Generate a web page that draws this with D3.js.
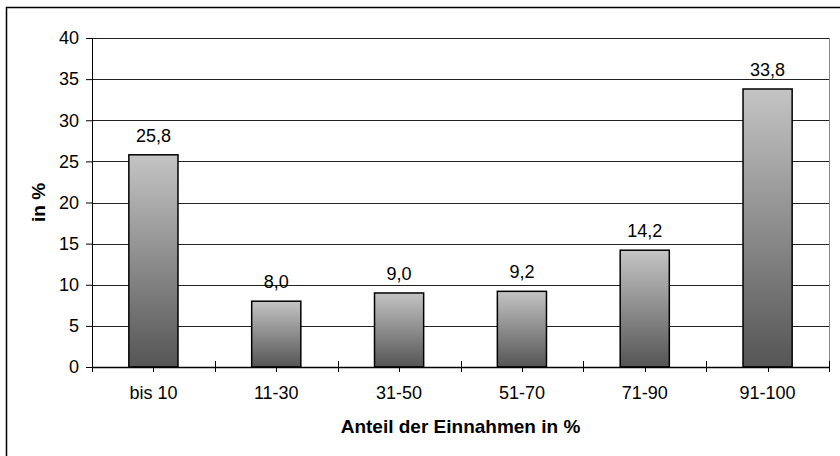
<!DOCTYPE html>
<html>
<head>
<meta charset="utf-8">
<script src="https://cdn.jsdelivr.net/npm/d3@7"></script>
<style>
  body { margin: 0; background: #fff; }
  text { font-family: "Liberation Sans", Arial, sans-serif; }
</style>
</head>
<body>
<div id="plot"></div>
<script>
const FRAME_WIDTH = 840;
const FRAME_HEIGHT = 456;
const MARGIN = {left: 92, right: 11, top: 38, bottom: 89};

const categories = ["bis 10", "11-30", "31-50", "51-70", "71-90", "91-100"];
const values = [25.8, 8.0, 9.0, 9.2, 14.2, 33.8];
const yTicks = [0, 5, 10, 15, 20, 25, 30, 35, 40];

const VIS_WIDTH = FRAME_WIDTH - MARGIN.left - MARGIN.right;
const VIS_HEIGHT = FRAME_HEIGHT - MARGIN.top - MARGIN.bottom;

const FRAME = d3.select("#plot")
  .append("svg")
    .attr("width", FRAME_WIDTH)
    .attr("height", FRAME_HEIGHT);

// outer chart border (clipped on right and bottom like the original)
FRAME.append("rect")
  .attr("x", 6.5).attr("y", 7.5)
  .attr("width", 900).attr("height", 600)
  .attr("fill", "none")
  .attr("stroke", "#000")
  .attr("stroke-width", 1.5);

const defs = FRAME.append("defs");
const grad = defs.append("linearGradient")
  .attr("id", "barGrad")
  .attr("x1", 0).attr("y1", 0).attr("x2", 0).attr("y2", 1);
grad.append("stop").attr("offset", "0%").attr("stop-color", "#c4c4c4");
grad.append("stop").attr("offset", "100%").attr("stop-color", "#555555");

const X_SCALE = d3.scaleBand()
  .domain(categories)
  .range([0, VIS_WIDTH])
  .paddingInner(0.6)
  .paddingOuter(0.3);

const Y_SCALE = d3.scaleLinear()
  .domain([0, 40])
  .range([VIS_HEIGHT, 0]);

const g = FRAME.append("g")
  .attr("transform", "translate(" + MARGIN.left + "," + MARGIN.top + ")");

// gridlines
g.selectAll(".grid")
  .data(yTicks.filter(d => d > 0))
  .enter()
  .append("line")
    .attr("x1", 0).attr("x2", VIS_WIDTH)
    .attr("y1", d => Math.round(Y_SCALE(d)) + 0.5)
    .attr("y2", d => Math.round(Y_SCALE(d)) + 0.5)
    .attr("stroke", "#222")
    .attr("stroke-width", 1);

// right border of plot area
g.append("line")
  .attr("x1", VIS_WIDTH + 0.5).attr("x2", VIS_WIDTH + 0.5)
  .attr("y1", Y_SCALE(40)).attr("y2", VIS_HEIGHT)
  .attr("stroke", "#888");

// bars
g.selectAll(".bar")
  .data(values)
  .enter()
  .append("rect")
    .attr("x", (d, i) => X_SCALE(categories[i]))
    .attr("y", d => Y_SCALE(d))
    .attr("width", X_SCALE.bandwidth())
    .attr("height", d => VIS_HEIGHT - Y_SCALE(d))
    .attr("fill", "url(#barGrad)")
    .attr("stroke", "#000")
    .attr("stroke-width", 1.5);

// value labels
g.selectAll(".lbl")
  .data(values)
  .enter()
  .append("text")
    .attr("x", (d, i) => X_SCALE(categories[i]) + X_SCALE.bandwidth() / 2)
    .attr("y", d => Y_SCALE(d) - 13)
    .attr("text-anchor", "middle")
    .attr("font-size", "18px")
    .text(d => d.toFixed(1).replace(".", ","));

// y axis
const yAxis = g.append("g")
  .call(d3.axisLeft(Y_SCALE).tickValues(yTicks).tickSize(6).tickPadding(7))
  .attr("font-size", "18px")
  .attr("font-family", "Liberation Sans, Arial, sans-serif");
yAxis.selectAll("line").attr("stroke", "#000");
yAxis.select(".domain").attr("stroke", "#000").attr("d", "M0.5," + VIS_HEIGHT + "V0");
yAxis.selectAll("text").attr("fill", "#000");

// x axis: boundary ticks crossing axis, short ticks at category centres
const step = X_SCALE.step();
const xBase = g.append("g").attr("transform", "translate(0," + VIS_HEIGHT + ")");
xBase.append("line")
  .attr("x1", 0).attr("x2", VIS_WIDTH)
  .attr("y1", 0.5).attr("y2", 0.5)
  .attr("stroke", "#000").attr("stroke-width", 1.5);
xBase.selectAll(".btick")
  .data(d3.range(categories.length + 1))
  .enter()
  .append("line")
    .attr("x1", i => Math.round(i * step) + 0.5)
    .attr("x2", i => Math.round(i * step) + 0.5)
    .attr("y1", -6).attr("y2", 5)
    .attr("stroke", "#000");
xBase.selectAll(".ctick")
  .data(categories)
  .enter()
  .append("line")
    .attr("x1", d => Math.round(X_SCALE(d) + X_SCALE.bandwidth() / 2) + 0.5)
    .attr("x2", d => Math.round(X_SCALE(d) + X_SCALE.bandwidth() / 2) + 0.5)
    .attr("y1", 0).attr("y2", 5)
    .attr("stroke", "#000");
xBase.selectAll(".xlbl")
  .data(categories)
  .enter()
  .append("text")
    .attr("x", d => X_SCALE(d) + X_SCALE.bandwidth() / 2)
    .attr("y", 32)
    .attr("text-anchor", "middle")
    .attr("font-size", "18px")
    .text(d => d);

// axis titles
FRAME.append("text")
  .attr("x", MARGIN.left + VIS_WIDTH / 2)
  .attr("y", 433)
  .attr("text-anchor", "middle")
  .attr("font-size", "19px")
  .attr("font-weight", "bold")
  .text("Anteil der Einnahmen in %");

FRAME.append("text")
  .attr("transform", "translate(45," + (MARGIN.top + VIS_HEIGHT / 2) + ") rotate(-90)")
  .attr("text-anchor", "middle")
  .attr("font-size", "19px")
  .attr("font-weight", "bold")
  .text("in %");
</script>
</body>
</html>
